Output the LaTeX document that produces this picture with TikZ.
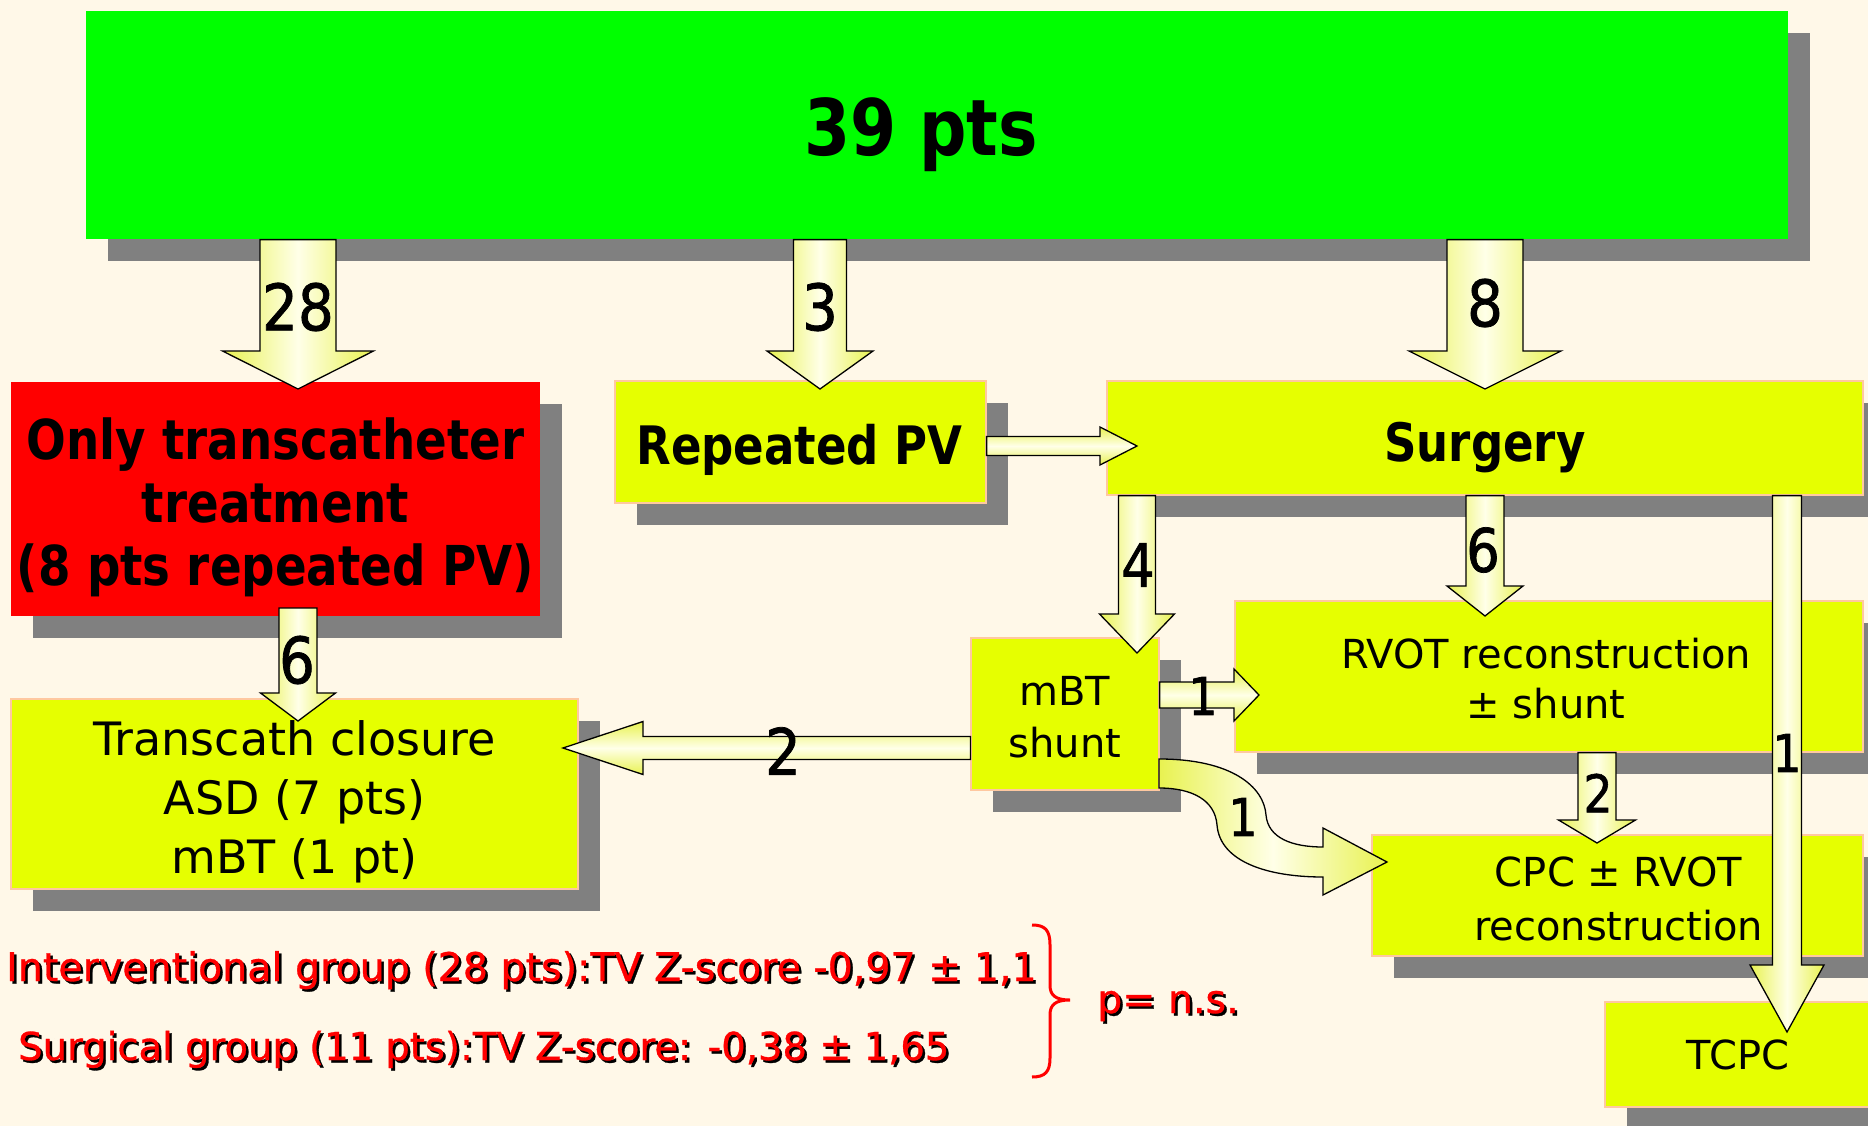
\documentclass[tikz,border=0pt]{standalone}
\usepackage{fontspec}
\setmainfont{DejaVu Sans}
\newfontfamily\bfont{DejaVu Sans}[FakeStretch=0.85]
\newfontfamily\lfont{DejaVu Sans}[FakeStretch=0.88,FakeBold=1.2]
\newfontfamily\rfont{DejaVu Sans}[FakeBold=0.8]
\usetikzlibrary{calc,shadows}
\definecolor{bg}{RGB}{255,248,232}
\definecolor{boxyel}{RGB}{230,255,0}
\definecolor{boxgreen}{RGB}{0,255,0}
\definecolor{boxred}{RGB}{255,0,0}
\definecolor{shgray}{RGB}{128,128,128}
\definecolor{peach}{RGB}{255,200,160}
\definecolor{ayel}{RGB}{232,242,80}
\definecolor{awhite}{RGB}{255,255,232}
\definecolor{txtred}{RGB}{255,0,0}
\newcommand\blockdown[5]{\path[arrowfill,left color=ayel,right color=ayel,middle color=awhite]
  let \p1=(#1),\p2=(#2) in (\x2-#3pt,\y1) -- (\x2+#3pt,\y1) -- (\x2+#3pt,\y2+#5pt) -- (\x2+#4pt,\y2+#5pt)
  -- (\x2,\y2) -- (\x2-#4pt,\y2+#5pt) -- (\x2-#3pt,\y2+#5pt) -- cycle;}
\newcommand\blockright[5]{\path[arrowfill,top color=ayel,bottom color=ayel,middle color=awhite]
  let \p1=(#1),\p2=(#2) in (\x1,\y2+#3pt) -- (\x2-#5pt,\y2+#3pt) -- (\x2-#5pt,\y2+#4pt) -- (\x2,\y2)
  -- (\x2-#5pt,\y2-#4pt) -- (\x2-#5pt,\y2-#3pt) -- (\x1,\y2-#3pt) -- cycle;}
\newcommand\blockleft[5]{\path[arrowfill,top color=ayel,bottom color=ayel,middle color=awhite]
  let \p1=(#1),\p2=(#2) in (\x1,\y2+#3pt) -- (\x2+#5pt,\y2+#3pt) -- (\x2+#5pt,\y2+#4pt) -- (\x2,\y2)
  -- (\x2+#5pt,\y2-#4pt) -- (\x2+#5pt,\y2-#3pt) -- (\x1,\y2-#3pt) -- cycle;}
\begin{document}
\begin{tikzpicture}[x=1pt,y=-1pt,
  box/.style={rectangle,inner sep=0pt,draw=peach,line width=1.2pt,
    general shadow={fill=shgray,shadow xshift=22pt,shadow yshift=-22pt}},
  ybox/.style={box,fill=boxyel},
  txt/.style={inner sep=0pt,align=center},
  arrowfill/.style={draw=black,line width=1.3pt,line join=miter},
  lbig/.style={inner sep=0pt,font=\lfont\fontsize{64}{64}\selectfont},
  lsmall/.style={inner sep=0pt,font=\lfont\fontsize{52}{52}\selectfont},
  redtxt/.style={anchor=base west,inner sep=0pt,text=txtred,font=\rfont\fontsize{39.5}{40}\selectfont},
  redsh/.style={redtxt,text=black}]
\useasboundingbox (0,0) rectangle (1868,1126);
\fill[bg] (0,0) rectangle (1868,1126);

% boxes
\node[box,fill=boxgreen,draw=none,minimum width=1702pt,minimum height=228pt] (green) at (937,125) {};
\node[box,fill=boxred,draw=none,minimum width=529pt,minimum height=234pt] (red) at (275.5,499) {};
\node[ybox,minimum width=371pt,minimum height=122pt] (rpv) at (800.5,442) {};
\node[ybox,minimum width=756pt,minimum height=114pt] (surg) at (1485,438) {};
\node[ybox,minimum width=188pt,minimum height=152pt] (mbt) at (1065,714) {};
\node[ybox,minimum width=628pt,minimum height=151pt] (rvot) at (1549,676.5) {};
\node[ybox,minimum width=491pt,minimum height=121pt] (cpc) at (1617.5,895.5) {};
\node[ybox,minimum width=270pt,minimum height=105pt] (tcpc) at (1740,1054.5) {};
\node[ybox,minimum width=567pt,minimum height=190pt] (tc) at (294.5,794) {};

% arrow tips
\coordinate (t28) at (298,389);
\coordinate (t3) at (820,389);
\coordinate (t8) at (1485,389);
\coordinate (tsurg) at (1137,446);
\coordinate (t4) at (1137,653);
\coordinate (t6s) at (1485,616);
\coordinate (ttc) at (1787,1032);
\coordinate (trv) at (1259,695);
\coordinate (t2r) at (1597,843);
\coordinate (s6r) at (298,608);
\coordinate (t6r) at (298,721);
\coordinate (t2l) at (563,748);

\blockdown{t28 |- green.south}{t28}{38}{75.5}{38}
\blockdown{t3 |- green.south}{t3}{26.5}{53}{38}
\blockdown{t8 |- green.south}{t8}{38}{76}{38}
\blockright{rpv.east}{tsurg}{9.5}{19}{37}
\blockdown{t4 |- surg.south}{t4}{18.5}{37.5}{39}
\blockdown{t6s |- surg.south}{t6s}{19}{38}{30}
\blockdown{ttc |- surg.south}{ttc}{14.5}{37}{67}
\blockright{mbt.east}{trv}{13}{26}{25}
\blockdown{t2r |- rvot.south}{t2r}{19}{38.5}{23}
\blockdown{s6r}{t6r}{19}{37.5}{28}
\blockleft{mbt.west}{t2l}{11.5}{26.5}{80}
% curved arrow mBT -> CPC
\path[arrowfill,left color=ayel,right color=ayel,middle color=awhite]
  (1159,759) .. controls (1232,759) and (1264,787) .. (1266,815)
  .. controls (1268,838) and (1292,847) .. (1323,847) -- (1323,828) -- (1387,862)
  -- (1323,895) -- (1323,877) .. controls (1268,877) and (1220,862) .. (1217,825)
  .. controls (1215,800) and (1192,788) .. (1159,788) -- cycle;

% box texts
\node[txt,font=\bfont\bfseries\fontsize{78}{78}\selectfont] (greentxt) at ($(green)+(-16,10)$) {39 pts};
\node[txt,font=\bfont\bfseries\fontsize{55}{63}\selectfont] (redtxt) at ($(red)+(0,8)$)
  {Only transcatheter\\treatment\\(8 pts repeated PV)};
\node[txt,font=\bfont\bfseries\fontsize{53}{53}\selectfont] (rpvtxt) at ($(rpv)+(-1,8)$) {Repeated PV};
\node[txt,font=\bfont\bfseries\fontsize{53}{53}\selectfont] (surgtxt) at ($(surg)+(0,10)$) {Surgery};
\node[txt,font=\fontsize{40}{52}\selectfont] (mbttxt) at ($(mbt)+(0,3)$) {mBT\\shunt};
\node[txt,font=\fontsize{40}{50}\selectfont] (rvottxt) at ($(rvot)+(-3,2)$) {RVOT reconstruction\\± shunt};
\node[txt,font=\fontsize{40}{54}\selectfont] (cpctxt) at ($(cpc)+(1,3)$) {CPC ± RVOT\\reconstruction};
\node[txt,font=\fontsize{40}{40}\selectfont] (tcpctxt) at ($(tcpc)+(-2,0)$) {TCPC};
\node[txt,font=\fontsize{46}{59}\selectfont] (tctxt) at ($(tc)+(0,8)$) {Transcath closure\\ASD (7 pts)\\mBT (1 pt)};

% arrow labels
\node[lbig] (l28) at (298,307) {28};
\node[lbig] (l3) at (820,307) {3};
\node[lbig] (l8) at (1485,303) {8};
\node[lbig,font=\lfont\fontsize{60}{60}\selectfont] (l4) at (1138,565) {4};
\node[lbig,font=\lfont\fontsize{60}{60}\selectfont] (l6s) at (1483,550) {6};
\node[lsmall] (l1t) at (1787,753) {1};
\node[lsmall] (l1r) at (1203,696) {1};
\node[lsmall] (l2r) at (1598,793) {2};
\node[lbig] (l6r) at (297,660) {6};
\node[lbig] (l2l) at (783,751) {2};
\node[lsmall] (l1c) at (1243,817) {1};

% statistics
\node[redsh] (ish) at (8.5,983.5) {Interventional group (28 pts):TV Z-score -0,97 ± 1,1};
\node[redtxt] (itx) at (6,981) {Interventional group (28 pts):TV Z-score -0,97 ± 1,1};
\node[redsh,font=\rfont\fontsize{38.5}{40}\selectfont] (ssh) at (20.5,1062.5) {Surgical group (11 pts):TV Z-score: -0,38 ± 1,65};
\node[redtxt,font=\rfont\fontsize{38.5}{40}\selectfont] (stx) at (18,1060) {Surgical group (11 pts):TV Z-score: -0,38 ± 1,65};
\draw[txtred,line width=3pt] (1032,925) .. controls (1045,925) and (1050,930) .. (1050,945)
  -- (1050,985) .. controls (1050,995) and (1055,1000) .. (1070,1000)
  .. controls (1055,1000) and (1050,1005) .. (1050,1015) -- (1050,1058)
  .. controls (1050,1072) and (1045,1077) .. (1032,1077);
\node[redsh] (psh) at (1099.5,1015.5) {p= n.s.};
\node[redtxt] (ptx) at (1097,1013) {p= n.s.};
\end{tikzpicture}
\end{document}
